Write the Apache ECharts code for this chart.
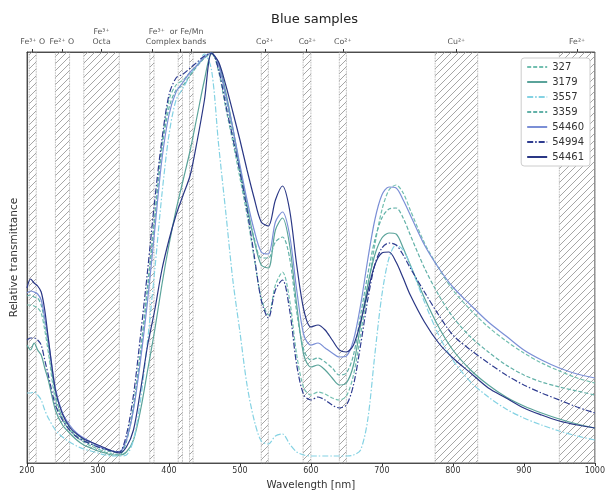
<!DOCTYPE html>
<html>
<head>
<meta charset="utf-8">
<script src="https://cdn.jsdelivr.net/npm/echarts@6/dist/echarts.min.js"></script>
<style>
  html, body { margin: 0; padding: 0; background: #fff; }
  #chart { width: 608px; height: 495px; }
</style>
</head>
<body>
<div id="chart"></div>
<script>
// wavelength grid (nm) and relative transmittance (arbitrary units)
const wavelength = [200,205,210,215,220,225,230,240,250,260,270,280,290,300,310,320,330,340,350,360,370,380,390,400,410,420,430,440,450,460,470,480,490,500,510,520,530,540,550,560,570,580,590,600,610,620,630,640,650,660,670,680,690,700,710,720,730,740,760,780,800,825,850,875,900,925,950,975,1000];

const s327 = [158,158,157,155,150,133,111,63,43,33,26,21,17,14,11,9,8,21,55,108,173,248,318,363,378,383,391,398,405,410,391,355,321,285,248,205,165,148,178,191,163,108,75,68,71,69,65,63,67,88,128,173,218,253,273,278,270,253,220,195,173,153,136,122,110,100,92,85,80];
const s3179 = [118,113,120,113,108,95,83,53,38,30,23,18,15,12,10,8,8,11,23,53,93,133,178,218,253,283,313,348,383,409,400,371,335,295,258,223,198,195,233,245,218,158,108,96,98,93,85,78,80,98,138,178,208,225,230,229,215,198,165,136,113,93,78,66,57,50,44,39,35];
const s3557 = [70,70,71,68,63,53,45,33,26,21,17,14,12,10,8,7,7,8,23,63,123,193,268,328,363,375,388,398,409,393,318,251,183,131,78,43,22,19,27,29,19,11,8,7,7,7,7,7,7,8,13,43,108,168,205,218,213,198,161,128,103,81,66,54,45,38,32,27,23];
const s3359 = [167,168,166,165,158,141,118,68,45,35,27,23,19,16,13,11,10,23,58,113,178,243,313,355,373,378,388,397,405,410,397,365,330,291,255,225,205,205,221,226,205,151,113,103,105,101,95,88,90,108,148,188,223,245,254,255,245,228,195,168,146,126,111,98,88,81,76,72,68];
const s54460 = [170,172,171,169,163,145,123,75,50,38,30,25,21,17,14,12,11,23,53,103,163,233,303,348,371,381,391,398,406,410,398,368,335,298,263,233,211,209,241,251,228,173,128,118,120,115,110,106,107,123,158,203,243,268,276,275,263,248,218,195,176,158,141,127,113,103,95,89,85];
const s54994 = [123,125,125,123,118,103,88,58,43,33,26,22,19,16,14,12,11,28,68,128,193,263,323,368,385,389,395,401,407,410,393,358,325,291,253,208,163,145,173,183,153,98,68,63,66,63,58,55,58,78,118,163,198,215,220,218,208,195,171,148,128,113,100,88,78,70,63,56,50];
const s54461 = [175,184,180,177,171,153,125,73,49,36,29,24,21,18,15,12,10,16,33,73,118,153,193,223,248,268,288,323,363,410,401,378,351,323,293,265,241,237,263,277,253,198,153,136,138,133,123,113,111,118,141,171,198,210,211,201,185,168,141,120,105,90,75,65,55,48,42,38,35];

const sampleNames = ['327','3179','3557','3359','54460','54994','54461'];
const sampleValues = [s327, s3179, s3557, s3359, s54460, s54994, s54461];
const sampleColors = ['#72bfb0','#5aa39a','#84d2e3','#62b1a8','#7b8fd6','#2e3c90','#2a3785'];
const sampleDash = [[4,2],'solid',[6,2,1.5,2],[4,2],'solid',[6,2,1.5,2],'solid'];

// absorption bands (nm) and top annotations
const bandStart = [203,240,280,373,413,429,530,589,640,775,950];
const bandEnd   = [213,260,330,379,419,434,540,600,650,835,1000];
const topTicks  = [208,250,305,376,416,431,535,594,645,805,975];
const topLabelAt   = [208,249,305,410,535,595,645,805,975];
const topLabelText = ['Fe³⁺ O','Fe²⁺ O','Fe³⁺\nOcta','Fe³⁺  or Fe/Mn\nComplex bands','Co²⁺','Co²⁺','Co²⁺','Cu²⁺','Fe²⁺'];

function hatch() {
  const c = document.createElement('canvas');
  c.width = 7; c.height = 7;
  const g = c.getContext('2d');
  g.strokeStyle = '#8f8f8f';
  g.lineWidth = 0.8;
  g.beginPath();
  g.moveTo(0, 7); g.lineTo(7, 0);
  g.moveTo(-1, 1); g.lineTo(1, -1);
  g.moveTo(6, 8); g.lineTo(8, 6);
  g.stroke();
  return c;
}

const chart = echarts.init(document.getElementById('chart'));

const series = sampleNames.map((name, k) => ({
  name: name,
  type: 'line',
  data: wavelength.map((w, i) => [w, sampleValues[k][i]]),
  symbol: 'none',
  smooth: 0.3,
  z: 3,
  lineStyle: { color: sampleColors[k], width: 1.2, type: sampleDash[k] },
  itemStyle: { color: sampleColors[k] }
}));

series.unshift({
  name: 'bands',
  type: 'line',
  data: [],
  z: 1,
  markArea: {
    silent: true,
    itemStyle: {
      color: { image: hatch(), repeat: 'repeat' },
      borderColor: '#999',
      borderWidth: 0.8,
      borderType: 'dotted'
    },
    data: bandStart.map((b, i) => [{ xAxis: b }, { xAxis: bandEnd[i] }])
  }
});

chart.setOption({
  animation: false,
  title: {
    text: 'Blue samples',
    left: 266, top: 8,
    textStyle: { fontSize: 13, fontWeight: 'normal', color: '#222', fontFamily: 'DejaVu Sans' }
  },
  legend: {
    data: sampleNames,
    orient: 'vertical',
    right: 18, top: 58,
    itemWidth: 20, itemHeight: 11, itemGap: 5,
    padding: [4, 6, 4, 5],
    backgroundColor: '#fff',
    borderColor: '#ccc', borderWidth: 1, borderRadius: 3,
    itemStyle: { color: 'transparent', borderWidth: 0, opacity: 0 },
    textStyle: { fontSize: 10, color: '#333', fontFamily: 'DejaVu Sans' }
  },
  grid: { left: 27, right: 10, top: 52, bottom: 32, show: true, borderColor: '#333', borderWidth: 0.8, backgroundColor: 'transparent' },
  xAxis: [{
    type: 'value', min: 200, max: 1000, interval: 100,
    name: 'Wavelength [nm]', nameLocation: 'middle', nameGap: 14,
    nameTextStyle: { fontSize: 10.3, color: '#333', fontFamily: 'DejaVu Sans' },
    axisLine: { lineStyle: { color: '#333', width: 0.8 } },
    axisTick: { length: 3, lineStyle: { color: '#333' } },
    axisLabel: { fontSize: 8, color: '#333', margin: 4, fontFamily: 'DejaVu Sans', formatter: (v) => String(v) },
    splitLine: { show: false }
  }, {
    type: 'value', min: 200, max: 1000, position: 'top',
    axisLine: { show: true, lineStyle: { color: '#333', width: 0.8 } },
    axisTick: { show: true, length: 3, customValues: topTicks, lineStyle: { color: '#333' } },
    axisLabel: {
      fontSize: 7.8, color: '#555', margin: 5, lineHeight: 10, fontFamily: 'DejaVu Sans',
      customValues: topLabelAt,
      formatter: (v) => { const i = topLabelAt.indexOf(v); return i >= 0 ? topLabelText[i] : ''; }
    },
    splitLine: { show: false }
  }],
  yAxis: {
    type: 'value', min: 0, max: 411,
    name: 'Relative transmittance', nameLocation: 'middle', nameGap: 7,
    nameTextStyle: { fontSize: 10.5, color: '#333', fontFamily: 'DejaVu Sans' },
    axisLine: { show: true, lineStyle: { color: '#333', width: 0.8 } },
    axisTick: { show: false },
    axisLabel: { show: false },
    splitLine: { show: false }
  },
  series: series
});
</script>
</body>
</html>
